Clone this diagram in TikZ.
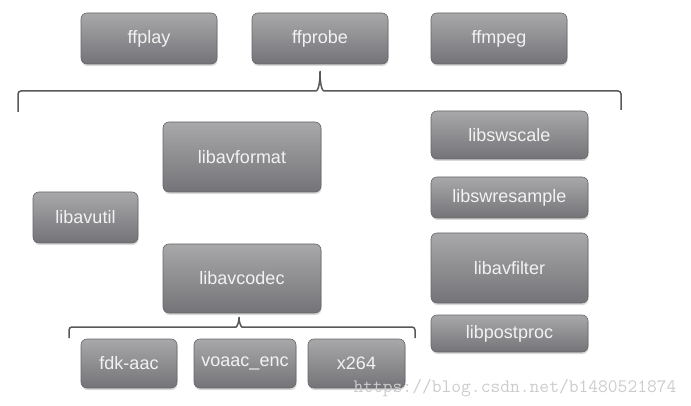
\documentclass[tikz,border=0pt]{standalone}
\usepackage{fontspec}
\setmainfont{Liberation Sans}
\usetikzlibrary{shadows}
\definecolor{boxtop}{HTML}{A8A8AA}
\definecolor{boxbot}{HTML}{747478}
\definecolor{boxline}{HTML}{66666A}
\definecolor{braceline}{HTML}{58585A}
\tikzset{
  libbox/.style={rounded corners=6pt, top color=boxtop, bottom color=boxbot,
    draw=boxline, line width=0.6pt, text=white!95!black, inner sep=2pt,
    font=\fontsize{18}{20}\selectfont,
    drop shadow={shadow xshift=0.6pt, shadow yshift=-2pt, opacity=0.3}},
  bracket/.style={draw=braceline, line width=1.5pt, rounded corners=3pt}
}
\begin{document}
\begin{tikzpicture}[x=1pt,y=-1pt]
  \useasboundingbox (0,0) rectangle (691,406);
  % tools
  \node[libbox, minimum width=136, minimum height=51] (ffplay) at (149,38.5) {ffplay};
  \node[libbox, minimum width=136, minimum height=51] (ffprobe) at (320,38.5) {ffprobe};
  \node[libbox, minimum width=136, minimum height=51] (ffmpeg) at (499,38.5) {ffmpeg};
  % libraries
  \node[libbox, minimum width=158, minimum height=70] (avformat) at (242,157) {libavformat};
  \node[libbox, minimum width=105, minimum height=51] (avutil) at (85.5,217.5) {libavutil};
  \node[libbox, minimum width=158, minimum height=69] (avcodec) at (242,278.5) {libavcodec};
  \node[libbox, minimum width=157, minimum height=48] (swscale) at (509.5,135) {libswscale};
  \node[libbox, minimum width=157, minimum height=41] (swresample) at (509.5,197.5) {libswresample};
  \node[libbox, minimum width=157, minimum height=70] (avfilter) at (509.5,268) {libavfilter};
  \node[libbox, minimum width=157, minimum height=37] (postproc) at (509.5,333.5) {libpostproc};
  % codecs
  \node[libbox, minimum width=96, minimum height=49] (fdkaac) at (129,363.5) {fdk-aac};
  \node[libbox, minimum width=102, minimum height=49] (voaacenc) at (245,363.5) {voaac\_enc};
  \node[libbox, minimum width=97, minimum height=49] (xcodec) at (356.5,363.5) {x264};
  % brackets
  \coordinate (toptip) at (320,69);
  \coordinate (lowtip) at (239,315);
  \draw[bracket] (18,112) -- (18,91) -- (313,91)
    .. controls (318,91) and (320,84) .. (toptip)
    .. controls (320,84) and (322,91) .. (327,91) -- (621,91) -- (621,110);
  \draw[bracket] (69,338) -- (69,327) -- (233,327)
    .. controls (237,327) and (239,322) .. (lowtip)
    .. controls (239,322) and (241,327) .. (245,327) -- (415,327) -- (415,338);
  \node[text=gray!40, inner sep=0pt, font=\ttfamily\fontsize{19}{20}\selectfont] (wmark) at (515,388) {https://blog.csdn.net/b1480521874};
\end{tikzpicture}
\end{document}
